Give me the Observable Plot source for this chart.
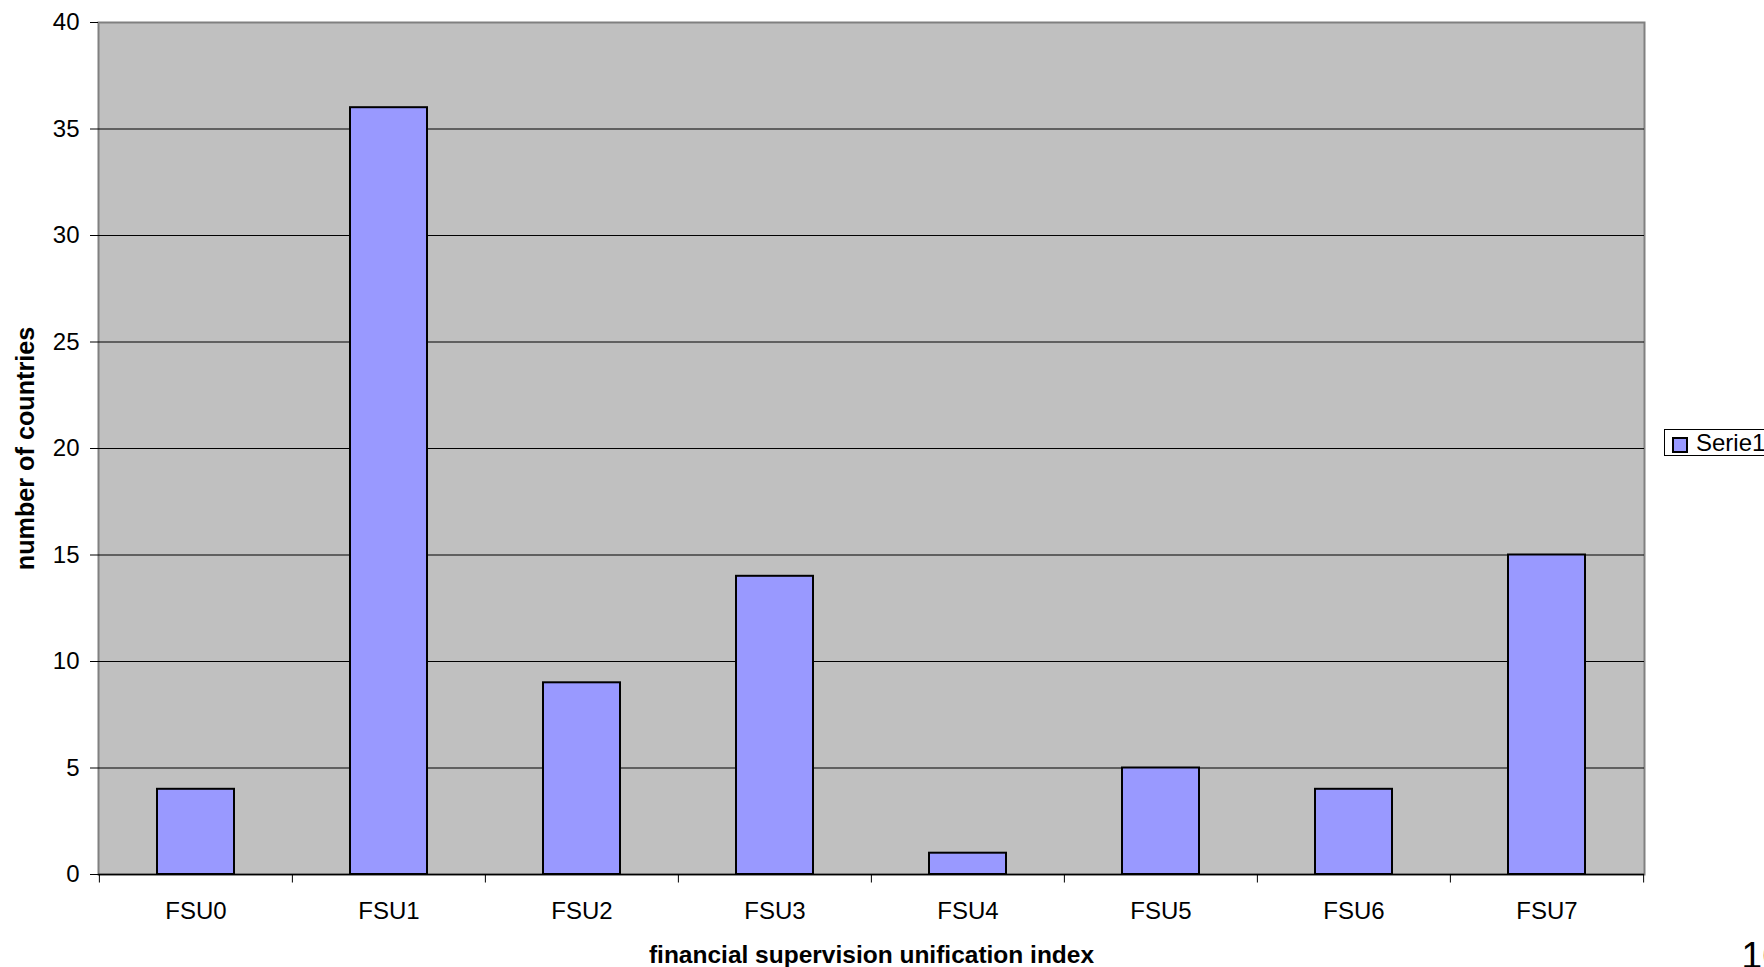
<!DOCTYPE html>
<html>
<head>
<meta charset="utf-8">
<script src="https://cdn.jsdelivr.net/npm/d3@7"></script>
<script src="https://cdn.jsdelivr.net/npm/@observablehq/plot@0.6"></script>
<style>
  html, body { margin: 0; padding: 0; background: #fff; overflow: hidden; }
  #wrap { position: relative; width: 1764px; height: 967px; font-family: "Liberation Sans", Arial, sans-serif; }
  #legend { position: absolute; left: 1664px; top: 429px; width: 140px; height: 27px; border: 1px solid #000; background: #fff; box-sizing: border-box; }
  #legend .sw { position: absolute; left: 7px; top: 7px; width: 16px; height: 16px; background: #9999ff; border: 2px solid #000; box-sizing: border-box; }
  #legend .lb { position: absolute; left: 31px; top: 0px; font-size: 24px; line-height: 26px; color: #000; white-space: nowrap; }
</style>
</head>
<body>
<div id="wrap"></div>
<script>
const categories = ["FSU0", "FSU1", "FSU2", "FSU3", "FSU4", "FSU5", "FSU6", "FSU7"];
const counts = [4, 36, 9, 14, 1, 5, 4, 15];
const yTicks = [0, 5, 10, 15, 20, 25, 30, 35, 40];
const gridValues = [5, 10, 15, 20, 25, 30, 35];
const seriesName = "Serie1";
const xTitle = "financial supervision unification index";
const yTitle = "number of countries";
const pageNumber = "16";

const data = categories.map((c, i) => ({cat: c, count: counts[i]}));

const W = 1764, H = 967, ml = 98, mr = 120, mt = 22, mb = 93;
const step = (W - ml - mr) / categories.length;

const chart = Plot.plot({
  width: W,
  height: H,
  marginLeft: ml,
  marginRight: mr,
  marginTop: mt,
  marginBottom: mb,
  style: {fontFamily: "'Liberation Sans', Arial, sans-serif", fontSize: "24px", color: "#000", background: "#fff", overflow: "visible"},
  x: {domain: categories, paddingInner: 0.6, paddingOuter: 0.3, label: null},
  y: {domain: [0, 40], label: null},
  marks: [
    Plot.frame({fill: "#c0c0c0", stroke: "#808080", strokeWidth: 2}),
    Plot.ruleY(gridValues, {stroke: "#000", strokeWidth: 1}),
    Plot.barY(data, {x: "cat", y: "count", fill: "#9999ff", stroke: "#000", strokeWidth: 2}),
    Plot.ruleY([0], {stroke: "#000", strokeWidth: 1.5}),
    Plot.ruleX(categories, {x: d => d, dx: -step / 2, y1: 0, y2: -0.4, stroke: "#000", strokeWidth: 1}),
    Plot.ruleX([categories[categories.length - 1]], {x: d => d, dx: step / 2, y1: 0, y2: -0.4, stroke: "#000", strokeWidth: 1}),
    Plot.axisY({ticks: yTicks, tickSize: 8, tickPadding: 11, fontSize: 24, label: null}),
    Plot.axisX({tickSize: 0, tickPadding: 27, fontSize: 24, label: null}),
    Plot.text([xTitle], {text: d => d, frameAnchor: "bottom", dy: 88, lineAnchor: "bottom", textAnchor: "middle", fontWeight: "bold", fontSize: 24.5}),
    Plot.text([yTitle], {text: d => d, frameAnchor: "left", dx: -73, rotate: -90, lineAnchor: "middle", textAnchor: "middle", fontWeight: "bold", fontSize: 25.2}),
    Plot.text([pageNumber], {text: d => d, frameAnchor: "bottom-right", dx: 97, dy: 93, lineAnchor: "bottom", textAnchor: "start", fontSize: 37})
  ]
});

const wrap = document.getElementById("wrap");
wrap.appendChild(chart);
const legend = document.createElement("div");
legend.id = "legend";
legend.innerHTML = `<div class="sw"></div><div class="lb">${seriesName}</div>`;
wrap.appendChild(legend);
</script>
</body>
</html>
